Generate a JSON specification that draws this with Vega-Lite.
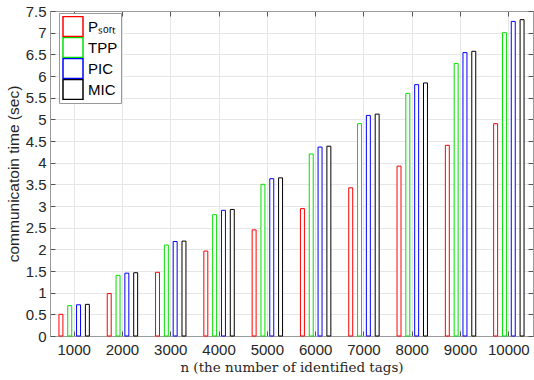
{
  "$schema": "https://vega.github.io/schema/vega-lite/v6.json",
  "width": 483,
  "height": 325,
  "autosize": {"type": "none"},
  "padding": {"left": 50, "top": 11, "right": 1, "bottom": 44},
  "background": "white",
  "config": {
    "view": {"stroke": "#9a9a9a", "strokeWidth": 1},
    "axis": {"labelFont": "Liberation Sans", "labelColor": "#262626", "titleColor": "#262626", "gridColor": "#e6e6e6", "domainColor": "#9a9a9a", "tickColor": "#555555"}
  },
  "data": {"values": [
    {"n": 1000, "method": "P_sort", "v": 0.50}, {"n": 1000, "method": "TPP", "v": 0.70}, {"n": 1000, "method": "PIC", "v": 0.72}, {"n": 1000, "method": "MIC", "v": 0.73},
    {"n": 2000, "method": "P_sort", "v": 0.98}, {"n": 2000, "method": "TPP", "v": 1.40}, {"n": 2000, "method": "PIC", "v": 1.45}, {"n": 2000, "method": "MIC", "v": 1.46},
    {"n": 3000, "method": "P_sort", "v": 1.47}, {"n": 3000, "method": "TPP", "v": 2.10}, {"n": 3000, "method": "PIC", "v": 2.18}, {"n": 3000, "method": "MIC", "v": 2.19},
    {"n": 4000, "method": "P_sort", "v": 1.96}, {"n": 4000, "method": "TPP", "v": 2.80}, {"n": 4000, "method": "PIC", "v": 2.90}, {"n": 4000, "method": "MIC", "v": 2.92},
    {"n": 5000, "method": "P_sort", "v": 2.45}, {"n": 5000, "method": "TPP", "v": 3.50}, {"n": 5000, "method": "PIC", "v": 3.63}, {"n": 5000, "method": "MIC", "v": 3.65},
    {"n": 6000, "method": "P_sort", "v": 2.94}, {"n": 6000, "method": "TPP", "v": 4.20}, {"n": 6000, "method": "PIC", "v": 4.36}, {"n": 6000, "method": "MIC", "v": 4.38},
    {"n": 7000, "method": "P_sort", "v": 3.42}, {"n": 7000, "method": "TPP", "v": 4.90}, {"n": 7000, "method": "PIC", "v": 5.09}, {"n": 7000, "method": "MIC", "v": 5.12},
    {"n": 8000, "method": "P_sort", "v": 3.92}, {"n": 8000, "method": "TPP", "v": 5.60}, {"n": 8000, "method": "PIC", "v": 5.80}, {"n": 8000, "method": "MIC", "v": 5.84},
    {"n": 9000, "method": "P_sort", "v": 4.40}, {"n": 9000, "method": "TPP", "v": 6.29}, {"n": 9000, "method": "PIC", "v": 6.54}, {"n": 9000, "method": "MIC", "v": 6.57},
    {"n": 10000, "method": "P_sort", "v": 4.90}, {"n": 10000, "method": "TPP", "v": 7.00}, {"n": 10000, "method": "PIC", "v": 7.26}, {"n": 10000, "method": "MIC", "v": 7.30}
  ]},
  "layer": [
    {
      "mark": {"type": "bar", "fill": "white", "strokeWidth": 1},
      "encoding": {
        "x": {"field": "n", "type": "ordinal",
          "scale": {"paddingInner": 0.27, "paddingOuter": 0.135},
          "axis": {"orient": "bottom", "labelAngle": 0, "labelFontSize": 15, "labelPadding": 11, "bandPosition": 0.5, "grid": true, "tickSize": -5, "ticks": true,
            "title": "n (the number of identified tags)", "titleFont": "DejaVu Serif", "titleFontSize": 13.5, "titleFontWeight": "normal", "titlePadding": 3}},
        "xOffset": {"field": "method", "type": "nominal", "sort": ["P_sort", "TPP", "PIC", "MIC"],
          "scale": {"paddingInner": 0.55, "paddingOuter": 0.275}},
        "y": {"field": "v", "type": "quantitative",
          "scale": {"domain": [0, 7.5], "nice": false},
          "axis": {"orient": "left", "values": [0, 0.5, 1, 1.5, 2, 2.5, 3, 3.5, 4, 4.5, 5, 5.5, 6, 6.5, 7, 7.5], "format": "~g", "labelFontSize": 15, "labelPadding": 9, "tickSize": -5, "grid": true,
            "title": "communicatoin time (sec)", "titleFont": "Liberation Sans", "titleFontSize": 15.5, "titleFontWeight": "normal", "titlePadding": 4}},
        "stroke": {"field": "method", "type": "nominal", "sort": ["P_sort", "TPP", "PIC", "MIC"],
          "scale": {"domain": ["P_sort", "TPP", "PIC", "MIC"], "range": ["#ff0000", "#00e000", "#0000ff", "#000000"]},
          "legend": {"orient": "none", "legendX": 9, "legendY": 2, "title": null, "symbolType": "square", "symbolSize": 400, "symbolStrokeWidth": 1.5, "symbolFillColor": "white",
            "labelFont": "Liberation Sans", "labelFontSize": 15, "labelColor": "#000000", "rowPadding": 0, "clipHeight": 21, "labelOffset": 4,
            "padding": 3, "fillColor": "white", "strokeColor": "#999999",
            "labelExpr": "datum.value == 'P_sort' ? 'Pₛₒᵣₜ' : datum.value"}}
      }
    },
    {
      "mark": {"type": "bar", "opacity": 0},
      "encoding": {
        "x": {"field": "n", "type": "ordinal", "axis": {"orient": "top", "labels": false, "title": null, "bandPosition": 0.5, "tickSize": -5, "grid": false}},
        "xOffset": {"field": "method", "type": "nominal", "sort": ["P_sort", "TPP", "PIC", "MIC"]},
        "y": {"field": "v", "type": "quantitative", "axis": {"orient": "right", "labels": false, "title": null, "tickSize": -5, "grid": false, "values": [0, 0.5, 1, 1.5, 2, 2.5, 3, 3.5, 4, 4.5, 5, 5.5, 6, 6.5, 7, 7.5]}}
      }
    }
  ],
  "resolve": {"axis": {"x": "independent", "y": "independent"}}
}
